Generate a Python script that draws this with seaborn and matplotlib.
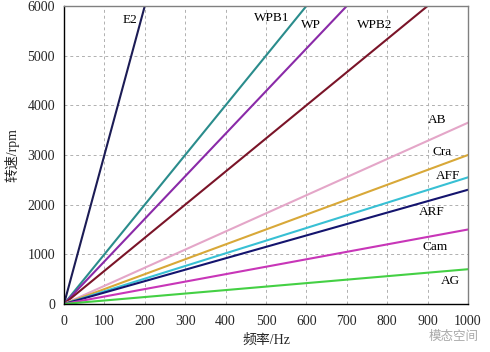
import matplotlib
matplotlib.use('Agg')
import matplotlib.pyplot as plt
import pandas
import seaborn as sns

# each line runs from the origin to the point where it leaves the plot
names = ['E2', 'WPB1', 'WP', 'WPB2', 'AB', 'Cra', 'AFF', 'ARF', 'Cam', 'AG']
end_freq = [200, 600, 700, 900, 1000, 1000, 1000, 1000, 1000, 1000]
end_speed = [6000, 6000, 6000, 6000, 3650, 3000, 2550, 2300, 1500, 700]
colors = ['#1c1c55', '#2a8c8c', '#8a2aa8', '#7a1428', '#e4a6c8',
          '#d8a838', '#38c0d4', '#14146e', '#c836b8', '#44d044']

label_freq = [163, 515, 612, 770, 924, 936, 950, 910, 918, 957]
label_speed = [5720, 5760, 5620, 5620, 3700, 3060, 2580, 1850, 1150, 460]

xticks = list(range(0, 1001, 100))
yticks = list(range(0, 6001, 1000))

rows = []
for n, f, s in zip(names, end_freq, end_speed):
    rows.append({'name': n, 'freq': 0, 'speed': 0})
    rows.append({'name': n, 'freq': f, 'speed': s})
data = pandas.DataFrame(rows)

sns.set_style('white')
plt.rcParams['font.family'] = ['Liberation Serif', 'Noto Sans CJK SC']

fig = plt.figure(figsize=(4.9, 3.52), dpi=100)
ax = fig.add_axes([0.1306, 0.1364, 0.8245, 0.8466])

sns.lineplot(data=data, x='freq', y='speed', hue='name', hue_order=names,
             palette=dict(zip(names, colors)), linewidth=1.5, legend=False, ax=ax)

for n, x, y in zip(names, label_freq, label_speed):
    ax.text(x, y, n, fontsize=9.5, ha='center', va='center', color='black')

ax.set_xlim(0, 1000)
ax.set_ylim(0, 6000)
ax.set_xticks(xticks)
ax.set_yticks(yticks)
ax.tick_params(labelsize=10, length=3, direction='out', color='black')
ax.tick_params(axis='x', pad=5)
ax.grid(True, linestyle=(0, (3, 3)), color='#b0b0b0', linewidth=0.7)
for side in ['left', 'bottom']:
    ax.spines[side].set_color('black')
    ax.spines[side].set_linewidth(1.0)
for side in ['right', 'top']:
    ax.spines[side].set_color('#808080')
    ax.spines[side].set_linewidth(1.0)

ax.set_xlabel('频率/Hz', fontsize=10, labelpad=4)
ax.set_ylabel('转速/rpm', fontsize=10, labelpad=6)

fig.text(0.925, 0.045, '模态空间', fontsize=9, color='#a8a8a8', ha='center', va='center',
         family=['Noto Sans CJK SC', 'DejaVu Sans'])

fig.savefig('out.png', dpi=100)
